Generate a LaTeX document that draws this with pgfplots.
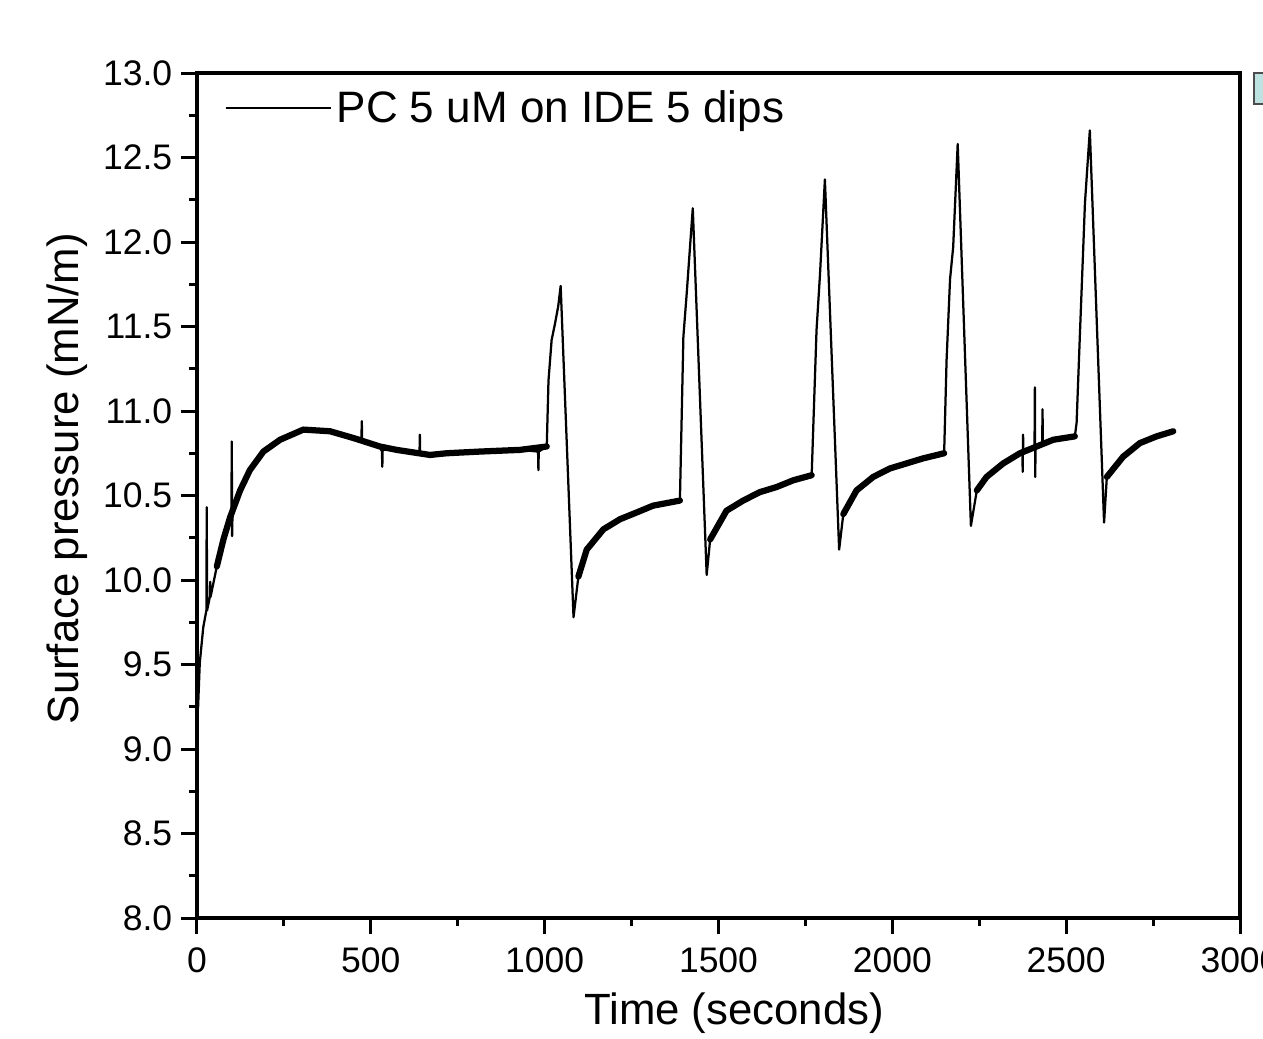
\documentclass[border=0pt]{standalone}
\usepackage{fontspec}
\setmainfont{Liberation Sans}
\usepackage{pgfplots}
\usepackage{pgfplotstable}
\pgfplotsset{compat=1.18}
\usetikzlibrary{calc}

% trace (time in s, surface pressure in mN/m)
\pgfplotstableread{
t p
0 9.27
3 9.24
8 9.51
18 9.72
27 9.82
28 10.43
29 9.82
37 9.90
38 9.99
39 9.90
57 10.08
76 10.24
95 10.37
99 10.37
100 10.82
101 10.26
102 10.38
124 10.53
152 10.65
191 10.76
239 10.83
306 10.89
383 10.88
450 10.84
473 10.84
474 10.94
475 10.83
526 10.79
532 10.76
533 10.67
534 10.77
574 10.77
640 10.75
641 10.86
642 10.74
670 10.74
718 10.75
814 10.76
929 10.77
981 10.76
982 10.65
983 10.76
1006 10.79
1011 11.18
1020 11.42
1030 11.52
1039 11.62
1046 11.74
1083 9.78
1097 10.02
1121 10.18
1169 10.30
1217 10.36
1265 10.40
1312 10.44
1389 10.47
1399 11.44
1408 11.68
1426 12.20
1466 10.03
1476 10.24
1523 10.41
1571 10.47
1619 10.52
1667 10.55
1715 10.59
1768 10.62
1773 10.93
1782 11.48
1792 11.81
1806 12.37
1847 10.18
1859 10.39
1897 10.53
1945 10.61
1993 10.66
2041 10.69
2089 10.72
2149 10.75
2156 11.30
2166 11.78
2175 11.97
2188 12.58
2226 10.32
2243 10.53
2271 10.61
2319 10.69
2367 10.75
2374 10.76
2375 10.64
2376 10.86
2377 10.77
2409 10.79
2410 11.14
2411 10.61
2412 10.80
2431 10.80
2432 11.01
2433 10.80
2463 10.83
2525 10.85
2530 10.93
2540 11.48
2549 11.96
2554 12.23
2568 12.66
2609 10.34
2617 10.61
2664 10.73
2712 10.81
2760 10.85
2808 10.88
}\trace

% slow parts of the trace, where the noise makes the line look thick
\pgfplotstableread{
t p
57 10.08
76 10.24
95 10.37
124 10.53
152 10.65
191 10.76
239 10.83
306 10.89
383 10.88
450 10.84
526 10.79
574 10.77
670 10.74
718 10.75
814 10.76
929 10.77
1006 10.79
nan nan
1097 10.02
1121 10.18
1169 10.30
1217 10.36
1265 10.40
1312 10.44
1389 10.47
nan nan
1476 10.24
1523 10.41
1571 10.47
1619 10.52
1667 10.55
1715 10.59
1768 10.62
nan nan
1859 10.39
1897 10.53
1945 10.61
1993 10.66
2041 10.69
2089 10.72
2149 10.75
nan nan
2243 10.53
2271 10.61
2319 10.69
2367 10.75
2463 10.83
2525 10.85
nan nan
2617 10.61
2664 10.73
2712 10.81
2760 10.85
2808 10.88
}\band

\begin{document}
\begin{tikzpicture}
\begin{axis}[
    name=ax,
    scale only axis,
    width=417.2pt,
    height=338pt,
    xmin=0, xmax=3000,
    ymin=8, ymax=13,
    xtick={0,500,...,3000},
    ytick={8,8.5,...,13},
    minor x tick num=1,
    minor y tick num=1,
    xtick pos=bottom,
    ytick pos=left,
    tick align=outside,
    major tick length=6.4pt,
    minor tick length=3.2pt,
    tick style={line width=1.2pt, black},
    axis line style={line width=1.3pt},
    /pgf/number format/assume math mode=true,
    /pgf/number format/set thousands separator={},
    yticklabel style={/pgf/number format/fixed, /pgf/number format/fixed zerofill, /pgf/number format/precision=1},
    ticklabel style={font=\fontsize{14.2}{16}\selectfont},
    xticklabel style={yshift=-2pt},
    xlabel={Time (seconds)},
    ylabel={Surface pressure (mN/m)},
    every axis x label/.style={at={(rel axis cs:0.515,0)}, anchor=base, yshift=-42.4pt, font=\fontsize{17.5}{20}\selectfont},
    every axis y label/.style={at={(rel axis cs:0,0.52)}, anchor=base, xshift=-47.2pt, rotate=90, font=\fontsize{17.5}{20}\selectfont},
    legend style={draw=none, fill=none, at={(0.0258,0.986)}, anchor=north west,
        inner sep=0pt, font=\fontsize{17.6}{20}\selectfont},
    legend image code/.code={\draw[line width=0.6pt] (0pt,0pt) -- (38.8pt,0pt);
        \path (0pt,0pt) -- (42pt,0pt);},
    unbounded coords=jump,
]
\addplot[black, line width=0.9pt, line join=round] table[x=t, y=p] {\trace};
\addlegendentry{PC 5 uM on IDE 5 dips}
\addplot[black, line width=2.5pt, line cap=round, line join=round, forget plot] table[x=t, y=p] {\band};
\end{axis}
\draw[draw=black!70, line width=0.6pt, fill={rgb,255:red,188;green,226;blue,226}]
    ($(ax.north east)+(5.6pt,0pt)$) rectangle ($(ax.north east)+(20pt,-12.4pt)$);
\pgfresetboundingbox
\useasboundingbox ($(ax.south west)+(-78.8pt,-48pt)$) rectangle ($(ax.north east)+(9.2pt,29.2pt)$);
\end{tikzpicture}
\end{document}
